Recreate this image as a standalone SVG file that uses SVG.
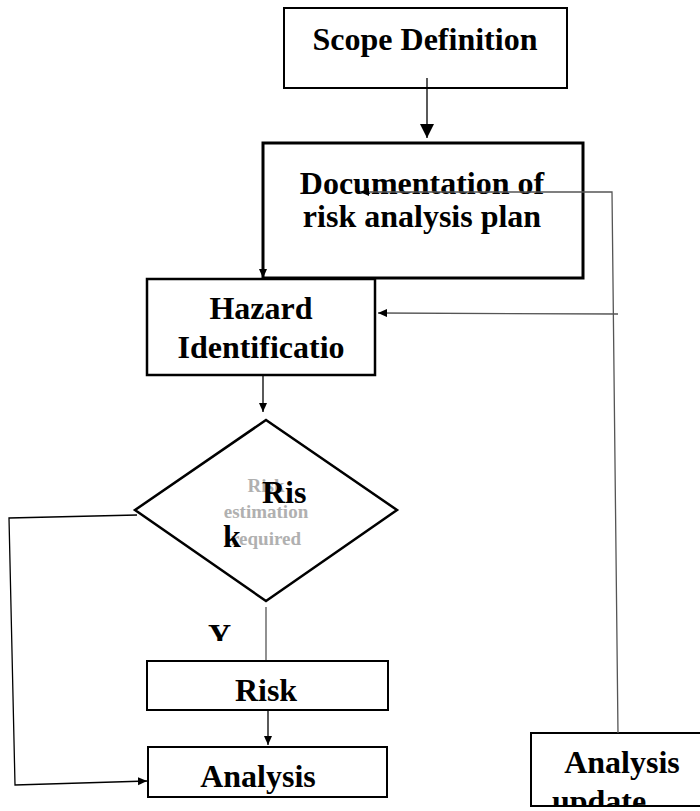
<svg xmlns="http://www.w3.org/2000/svg" width="700" height="811" viewBox="0 0 700 811">
<style>
.box{fill:#fff;stroke:#000}
.t{font-family:"Liberation Serif","Times New Roman",serif;font-weight:bold;font-size:32px;fill:#000;text-anchor:middle}
.g{font-family:"Liberation Serif","Times New Roman",serif;font-weight:bold;font-size:19px;fill:#b0b0b0;text-anchor:middle}
.c{fill:none;stroke:#000;stroke-width:1.3}
.cg{fill:none;stroke:#555;stroke-width:1.3}
</style>
<defs>
<marker id="ah" markerUnits="userSpaceOnUse" markerWidth="10" markerHeight="10" refX="9" refY="4" orient="auto"><path d="M0,0 L9,4 L0,8 z" fill="#000"/></marker>
<marker id="ahL" markerUnits="userSpaceOnUse" markerWidth="15" markerHeight="15" refX="14" refY="7" orient="auto"><path d="M0,0 L14,7 L0,14 z" fill="#000"/></marker>
<clipPath id="clipY"><rect x="0" y="600" width="400" height="41"/></clipPath>
<clipPath id="clipU"><rect x="531" y="733" width="169" height="72"/></clipPath>
</defs>
<rect width="700" height="811" fill="#fff"/>
<g id="scope">
<rect class="box" x="284" y="8" width="283" height="80" stroke-width="2"/>
<text class="t" x="425" y="50">Scope Definition</text>
</g>
<g id="doc">
<rect class="box" x="263" y="143" width="320" height="135" stroke-width="3"/>
<text class="t" x="422" y="194">Documentation of</text>
<text class="t" x="422" y="227">risk analysis plan</text>
</g>
<g id="hazard">
<rect class="box" x="147" y="279" width="228" height="96" stroke-width="2.5"/>
<text class="t" x="261" y="319">Hazard</text>
<text class="t" x="261" y="358">Identificatio</text>
</g>
<g id="decision">
<polygon class="box" points="266,420 397,510 266,601 135,510" stroke-width="2.5"/>
<text class="g" x="266" y="492">Risk</text>
<text class="g" x="266" y="518">estimation</text>
<text class="g" x="266" y="545">required</text>
<text class="t" x="262" y="503" style="text-anchor:start">Ris</text>
<text class="t" x="223" y="547" style="text-anchor:start">k</text>
</g>
<g id="yes-label" clip-path="url(#clipY)">
<text class="t" x="208" y="646" style="text-anchor:start">Y</text>
</g>
<g id="risk">
<rect class="box" x="147" y="661" width="241" height="49" stroke-width="2"/>
<text class="t" x="266" y="701">Risk</text>
</g>
<g id="analysis">
<rect class="box" x="148" y="747" width="239" height="50" stroke-width="2"/>
<text class="t" x="258" y="787">Analysis</text>
</g>
<g id="update">
<rect class="box" x="531" y="733" width="180" height="73" stroke-width="2"/>
<text class="t" x="622" y="773">Analysis</text>
<g clip-path="url(#clipU)"><text class="t" x="599" y="812">update</text></g>
</g>
<g id="connectors">
<line class="c" x1="427" y1="78" x2="427" y2="138" marker-end="url(#ahL)"/>
<line class="c" x1="263" y1="266" x2="263" y2="278" marker-end="url(#ah)"/>
<line class="c" x1="263" y1="375" x2="263" y2="412" marker-end="url(#ah)"/>
<line class="cg" x1="266" y1="607" x2="266" y2="660"/>
<line class="c" x1="268" y1="710" x2="268" y2="745" marker-end="url(#ah)"/>
<polyline class="c" points="137,515 9,518 15,785 147,781" marker-end="url(#ah)"/>
<polyline class="cg" points="618,733 612,192 360,192" marker-end="url(#ah)"/>
<line class="cg" x1="618" y1="314" x2="378" y2="313" marker-end="url(#ah)"/>
</g>
</svg>
